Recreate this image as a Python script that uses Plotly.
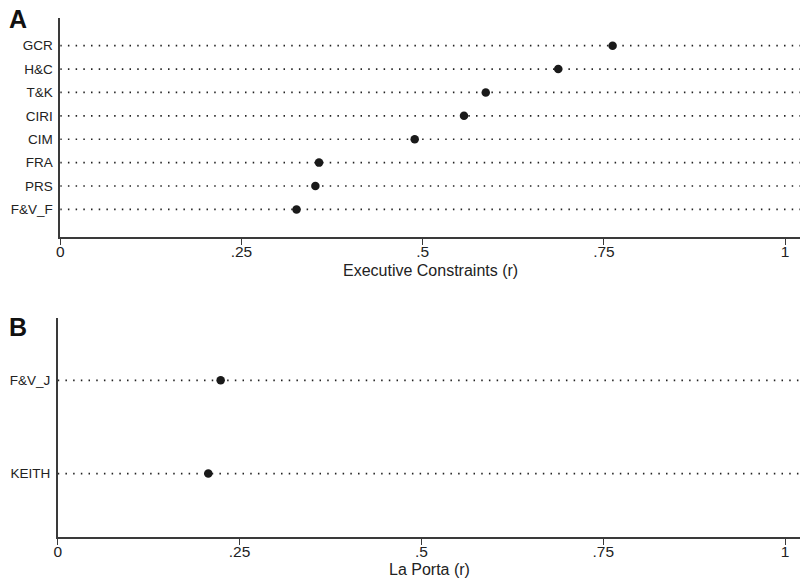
import plotly.graph_objects as go

# Panel A data (bottom to top)
cats_a = ["F&V_F", "PRS", "FRA", "CIM", "CIRI", "T&K", "H&C", "GCR"]
vals_a = [0.326, 0.352, 0.357, 0.489, 0.557, 0.587, 0.687, 0.762]

# Panel B data (bottom to top)
cats_b = ["KEITH", "F&V_J"]
vals_b = [0.207, 0.224]

xticks = [0, 0.25, 0.5, 0.75, 1]
xticklabels = ["0", ".25", ".5", ".75", "1"]

title_a = "Executive Constraints (r)"
title_b = "La Porta (r)"

XMAX = 1.0205
W, H = 800, 585
font = "Liberation Sans, Arial, Helvetica, sans-serif"
dot_color = "#1a1a1a"
axis_color = "#3a3a3a"

fig = go.Figure()

def add_panel(cats, vals, xa, ya):
    for i, c in enumerate(cats):
        fig.add_trace(go.Scatter(
            x=[0, XMAX], y=[i, i], mode="lines",
            line=dict(color="#222222", width=1.7, dash="1.5px,6.2px"),
            xaxis=xa, yaxis=ya, showlegend=False, hoverinfo="skip"))
    fig.add_trace(go.Scatter(
        x=vals, y=list(range(len(cats))), mode="markers",
        marker=dict(color=dot_color, size=8.5),
        xaxis=xa, yaxis=ya, showlegend=False))

add_panel(cats_a, vals_a, "x", "y")
add_panel(cats_b, vals_b, "x2", "y2")

def yfrac(px):
    return 1 - px / H

xcommon = dict(
    range=[0, XMAX], tickvals=xticks, ticktext=xticklabels,
    showline=True, linecolor=axis_color, linewidth=1.5,
    ticks="outside", ticklen=6, tickwidth=1.2, tickcolor=axis_color,
    showgrid=False, zeroline=False,
    tickfont=dict(family=font, size=15.5, color="#222222"),
)
ycommon = dict(
    showline=True, linecolor=axis_color, linewidth=1.5,
    ticks="", showgrid=False, zeroline=False,
    tickfont=dict(family=font, size=13.5, color="#222222"),
    ticklabelstandoff=3,
)

fig.update_layout(
    width=W, height=H,
    margin=dict(l=0, r=0, t=0, b=0),
    paper_bgcolor="white", plot_bgcolor="white",
    xaxis=dict(domain=[56.5 / W, 1], anchor="y", ticklabelstandoff=-6, **xcommon),
    yaxis=dict(domain=[yfrac(237), yfrac(18.3)], anchor="x",
               range=[-1.18, 8.17],
               tickvals=list(range(len(cats_a))), ticktext=cats_a, **ycommon),
    xaxis2=dict(domain=[54 / W, 1], anchor="y2", ticklabelstandoff=-6, **xcommon),
    yaxis2=dict(domain=[yfrac(537), yfrac(318.3)], anchor="x2",
                range=[-0.68, 1.665],
                tickvals=list(range(len(cats_b))), ticktext=cats_b, **ycommon),
    annotations=[
        dict(text=title_a, xref="paper", x=429 / W, yref="paper", y=yfrac(270),
             showarrow=False, xanchor="center", yanchor="middle",
             font=dict(family=font, size=16, color="#222222")),
        dict(text=title_b, xref="paper", x=428 / W, yref="paper", y=yfrac(569.5),
             showarrow=False, xanchor="center", yanchor="middle",
             font=dict(family=font, size=16, color="#222222")),
        dict(text="<b>A</b>", xref="paper", x=3 / W, yref="paper", y=yfrac(18.5),
             showarrow=False, xanchor="left", yanchor="middle",
             font=dict(family=font, size=25, color="#111111")),
        dict(text="<b>B</b>", xref="paper", x=3 / W, yref="paper", y=yfrac(326.5),
             showarrow=False, xanchor="left", yanchor="middle",
             font=dict(family=font, size=25, color="#111111")),
    ],
)

fig.write_html("out.html", config={"displayModeBar": False},
               post_script="document.body.style.margin='0';document.body.style.overflow='hidden';")
